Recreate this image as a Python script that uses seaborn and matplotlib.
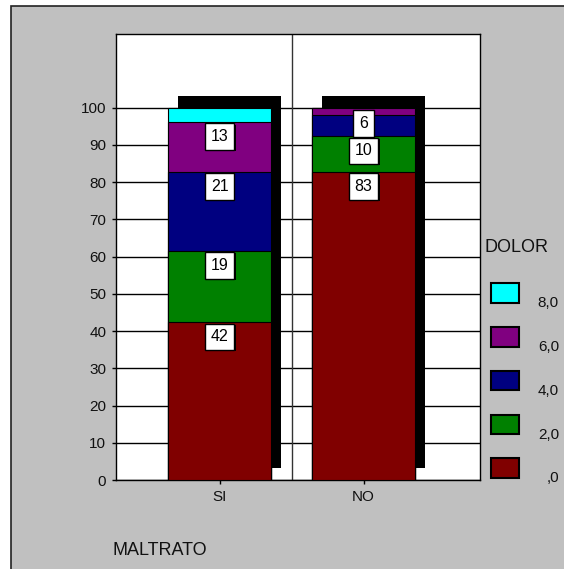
import matplotlib
matplotlib.use("Agg")
import matplotlib.pyplot as plt
import matplotlib.patheffects as pe
from matplotlib.patches import Rectangle
import pandas as pd
import seaborn as sns

# ---- data -------------------------------------------------------------
maltrato = ["SI", "NO"]
dolor_levels = [",0", "2,0", "4,0", "6,0", "8,0"]
pct_si = [42.31, 19.23, 21.15, 13.46, 3.85]
pct_no = [82.69, 9.62, 5.77, 1.92, 0.0]
colors = ["#800000", "#008000", "#000080", "#800080", "#00FFFF"]
yticks = list(range(0, 101, 10))

rows = []
for cat, vals in zip(maltrato, [pct_si, pct_no]):
    cum = 0.0
    for lvl, v in zip(dolor_levels, vals):
        cum += v
        rows.append({"MALTRATO": cat, "DOLOR": lvl, "pct": v, "cum": cum})
df = pd.DataFrame(rows)

# ---- figure -----------------------------------------------------------
FONT = ["Liberation Sans Narrow", "Liberation Sans", "DejaVu Sans"]
plt.rcParams["font.family"] = FONT

W, H = 564, 569
fig = plt.figure(figsize=(W / 100, H / 100), dpi=100, facecolor="white")


def fx(px):
    return px / W


def fy(py):
    return 1 - py / H


# grey chart frame
fig.patches.append(Rectangle((fx(10.5), -0.05), 1.1, fy(5.5) + 0.05,
                             transform=fig.transFigure, facecolor="#C0C0C0",
                             edgecolor="#222222", lw=1.2, zorder=-10))

ax = fig.add_axes([fx(116), fy(480), fx(480) - fx(116), fy(34) - fy(480)])
ax.set_zorder(2)
ax.set_facecolor("white")

# stacked bars: draw cumulative heights from the top level downwards
for k in reversed(range(len(dolor_levels))):
    sub = df[df["DOLOR"] == dolor_levels[k]]
    sns.barplot(data=sub, x="MALTRATO", y="cum", order=maltrato,
                color=colors[k], saturation=1, width=0.713,
                edgecolor="black", linewidth=0.8, errorbar=None,
                ax=ax, zorder=3)

# drop shadow behind the full-height bars
for bar in ax.patches[:len(maltrato)]:
    bar.set_path_effects([pe.SimplePatchShadow(offset=(7.2, 8.3),
                                               shadow_rgbFace="black",
                                               alpha=1.0),
                          pe.Normal()])

px_per_unit = 3.723
ax.set_xlim(-0.720, 1.808)
ax.set_ylim(0, 446 / px_per_unit)
ax.set_yticks(yticks)
ax.set_yticklabels([str(t) for t in yticks])
ax.set_xlabel("")
ax.set_ylabel("")
ax.set_axisbelow(True)
ax.grid(axis="y", color="black", lw=1)
ax.grid(axis="x", visible=False)
ax.axvline(0.5, color="#333333", lw=1, zorder=1)
for s in ax.spines.values():
    s.set_visible(True)
    s.set_color("black")
    s.set_linewidth(1)
ax.tick_params(direction="out", length=3.1, width=1, color="black",
               labelsize=11, labelcolor="#111111", pad=4.0)

# value labels in white boxes just under the top of each segment
labels = []
for i, vals in enumerate([pct_si, pct_no]):
    cum = 0.0
    col = []
    for v in vals:
        cum += v
        if v < 5:
            continue
        t = ax.annotate(f"{round(v)}", xy=(i, cum), xytext=(0, -7),
                        textcoords="offset pixels", ha="center", va="top",
                        fontsize=11.5, color="black", zorder=6,
                        bbox=dict(boxstyle="square,pad=0.36", fc="white",
                                  ec="black", lw=1))
        t.get_bbox_patch().set_path_effects([
            pe.SimplePatchShadow(offset=(0.9, -0.9), shadow_rgbFace="black",
                                 alpha=1.0),
            pe.Normal()])
        col.append(t)
    labels.append(col)

# push a box upwards when it would overlap the one beneath it
fig.canvas.draw()
for col in labels:
    prev_top = None
    for t in col:
        ext = t.get_bbox_patch().get_window_extent()
        if prev_top is not None and ext.y0 < prev_top + 1:
            shift = prev_top + 1 - ext.y0
            x0, y0 = t.xyann
            t.xyann = (x0, y0 + shift)
            fig.canvas.draw()
            ext = t.get_bbox_patch().get_window_extent()
        prev_top = ext.y1

# axis title and legend
fig.text(fx(113), fy(555), "MALTRATO", fontsize=13, color="#111111",
         ha="left", va="baseline")
fig.text(fx(485), fy(251.7), "DOLOR", fontsize=13, color="#111111",
         ha="left", va="baseline")

step = 43.75
for j, k in enumerate(reversed(range(len(dolor_levels)))):
    top = 283.3 + j * step
    fig.patches.append(Rectangle((fx(491), fy(top + 19.5)), fx(519) - fx(491),
                                 19.5 / H, transform=fig.transFigure,
                                 facecolor=colors[k], edgecolor="black",
                                 lw=1.5, zorder=2))
    fig.text(fx(559), fy(top + 24), dolor_levels[k], fontsize=11,
             color="#111111", ha="right", va="baseline")

fig.savefig("out.png", dpi=100, facecolor=fig.get_facecolor())
